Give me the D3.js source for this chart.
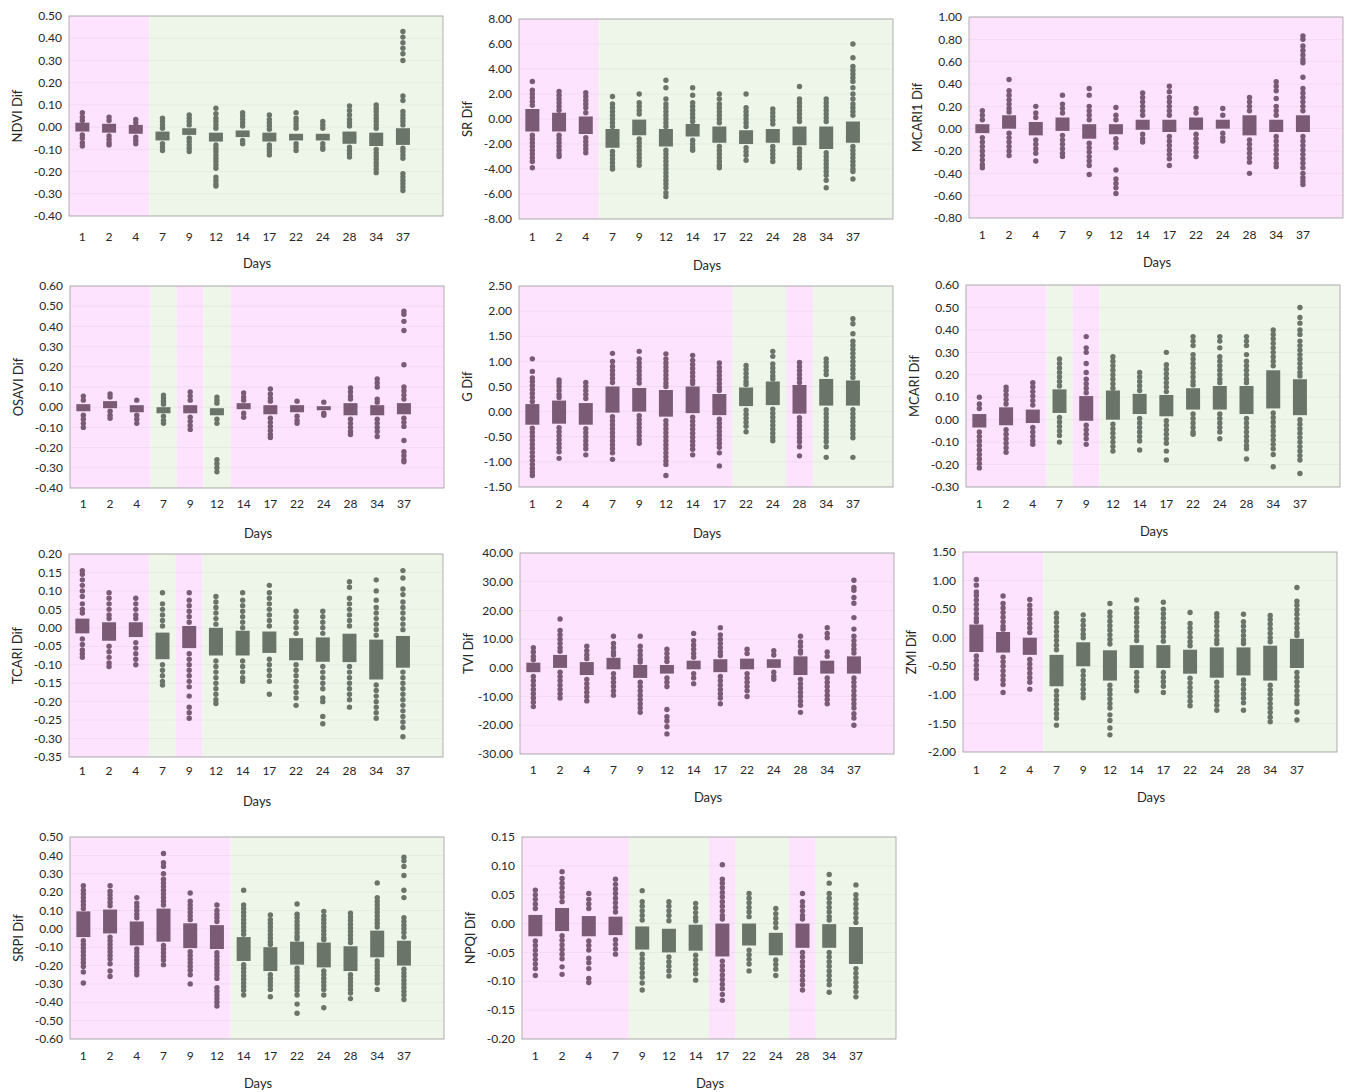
<!DOCTYPE html>
<html>
<head>
<meta charset="utf-8">
<script src="https://cdn.jsdelivr.net/npm/d3@7"></script>
<style>
  body { margin: 0; background: #fff; }
  text { font-family: Lato, "Open Sans", sans-serif; fill: #262626; }
</style>
</head>
<body>
<svg id="chart" width="1347" height="1092"></svg>
<script>
// x categories (sampling days)
const days = ["1", "2", "4", "7", "9", "12", "14", "17", "22", "24", "28", "34", "37"];

// p = purple (pink background), g = green-grey (green background)
const ndviGroup   = ["p","p","p","g","g","g","g","g","g","g","g","g","g"];
const srGroup     = ["p","p","p","g","g","g","g","g","g","g","g","g","g"];
const mcari1Group = ["p","p","p","p","p","p","p","p","p","p","p","p","p"];
const osaviGroup  = ["p","p","p","g","p","g","p","p","p","p","p","p","p"];
const gGroup      = ["p","p","p","p","p","p","p","p","g","g","p","g","g"];
const mcariGroup  = ["p","p","p","g","p","g","g","g","g","g","g","g","g"];
const tcariGroup  = ["p","p","p","g","p","g","g","g","g","g","g","g","g"];
const tviGroup    = ["p","p","p","p","p","p","p","p","p","p","p","p","p"];
const zmiGroup    = ["p","p","p","g","g","g","g","g","g","g","g","g","g"];
const srpiGroup   = ["p","p","p","p","p","p","g","g","g","g","g","g","g"];
const npqiGroup   = ["p","p","p","p","g","g","g","p","g","g","p","g","g"];

// y tick labels
const ndviTicks   = [-0.4, -0.3, -0.2, -0.1, 0, 0.1, 0.2, 0.3, 0.4, 0.5];
const srTicks     = [-8, -6, -4, -2, 0, 2, 4, 6, 8];
const mcari1Ticks = [-0.8, -0.6, -0.4, -0.2, 0, 0.2, 0.4, 0.6, 0.8, 1.0];
const osaviTicks  = [-0.4, -0.3, -0.2, -0.1, 0, 0.1, 0.2, 0.3, 0.4, 0.5, 0.6];
const gTicks      = [-1.5, -1.0, -0.5, 0, 0.5, 1.0, 1.5, 2.0, 2.5];
const mcariTicks  = [-0.3, -0.2, -0.1, 0, 0.1, 0.2, 0.3, 0.4, 0.5, 0.6];
const tcariTicks  = [-0.35, -0.3, -0.25, -0.2, -0.15, -0.1, -0.05, 0, 0.05, 0.1, 0.15, 0.2];
const tviTicks    = [-30, -20, -10, 0, 10, 20, 30, 40];
const zmiTicks    = [-2.0, -1.5, -1.0, -0.5, 0, 0.5, 1.0, 1.5];
const srpiTicks   = [-0.6, -0.5, -0.4, -0.3, -0.2, -0.1, 0, 0.1, 0.2, 0.3, 0.4, 0.5];
const npqiTicks   = [-0.2, -0.15, -0.1, -0.05, 0, 0.05, 0.1, 0.15];

// box bottoms / tops (quartiles) and the dots visible outside the box
const ndviQ1 = [-0.02,-0.025,-0.03,-0.06,-0.035,-0.065,-0.045,-0.065,-0.06,-0.06,-0.075,-0.085,-0.08];
const ndviQ3 = [0.02,0.015,0.01,-0.02,-0.005,-0.025,-0.015,-0.025,-0.03,-0.03,-0.02,-0.025,-0.005];
const ndviDots = [
  [0.065,0.045,0.03,-0.035,-0.05,-0.07,-0.085],
  [0.045,0.03,-0.04,-0.055,-0.07,-0.08],
  [0.035,0.02,-0.045,-0.06,-0.075],
  [0.04,0.025,0.01,-0.005,-0.075,-0.09,-0.105],
  [0.055,0.04,0.025,0.01,-0.05,-0.065,-0.08,-0.095,-0.11],
  [0.085,0.06,0.04,0.025,0.01,-0.005,-0.08,-0.095,-0.11,-0.125,-0.14,-0.155,-0.17,-0.185,-0.225,-0.24,-0.255,-0.265],
  [0.065,0.05,0.035,0.02,0.005,-0.06,-0.075],
  [0.055,0.035,0.02,0.005,-0.01,-0.08,-0.095,-0.11,-0.125],
  [0.065,0.04,0.025,0.01,-0.005,-0.075,-0.09,-0.105],
  [0.025,0.01,-0.005,-0.075,-0.09,-0.1],
  [0.095,0.075,0.055,0.035,0.02,0.005,-0.09,-0.105,-0.12,-0.135],
  [0.1,0.085,0.07,0.055,0.04,0.025,0.01,-0.005,-0.1,-0.115,-0.13,-0.145,-0.16,-0.175,-0.19,-0.205],
  [0.43,0.405,0.38,0.355,0.33,0.3,0.14,0.12,0.07,0.055,0.04,0.025,0.01,-0.095,-0.11,-0.125,-0.14,-0.21,-0.225,-0.24,-0.255,-0.27,-0.285]
];

const srQ1 = [-1.0,-1.0,-1.2,-2.3,-1.3,-2.2,-1.4,-1.9,-2.0,-1.9,-2.1,-2.4,-1.9];
const srQ3 = [0.8,0.5,0.2,-0.8,-0.05,-0.8,-0.4,-0.6,-0.9,-0.8,-0.6,-0.6,-0.2];
const srDots = [
  [3.0,2.3,2.0,1.7,1.4,1.1,-1.3,-1.6,-1.9,-2.2,-2.5,-2.8,-3.1,-3.4,-3.9],
  [2.2,1.9,1.6,1.3,1.0,0.7,-1.3,-1.6,-1.9,-2.2,-2.5,-2.8,-3.0],
  [2.1,1.8,1.5,1.2,0.9,0.5,-1.5,-1.8,-2.1,-2.4,-2.7],
  [1.8,1.2,0.9,0.6,0.3,0.0,-0.3,-0.6,-2.6,-2.9,-3.2,-3.5,-3.8,-4.0],
  [2.0,1.3,1.0,0.7,0.4,-1.6,-1.9,-2.2,-2.5,-2.8,-3.1,-3.4,-3.7],
  [3.1,2.5,1.6,1.2,0.9,0.6,0.3,0.0,-0.3,-0.6,-2.5,-2.8,-3.1,-3.4,-3.7,-4.0,-4.3,-4.6,-4.9,-5.2,-5.5,-5.9,-6.2],
  [2.5,1.9,1.3,1.0,0.7,0.4,0.1,-0.2,-1.7,-2.0,-2.3,-2.5],
  [2.0,1.6,1.2,0.9,0.6,0.3,0.0,-0.3,-2.2,-2.5,-2.8,-3.1,-3.4,-3.7,-3.9],
  [2.0,0.9,0.6,0.3,0.0,-0.3,-0.6,-2.3,-2.6,-2.9,-3.3],
  [0.8,0.5,0.2,-0.1,-0.4,-2.2,-2.5,-2.8,-3.1,-3.4],
  [2.6,1.6,1.3,1.0,0.7,0.4,0.1,-0.2,-2.4,-2.7,-3.0,-3.3,-3.6,-3.9],
  [1.6,1.3,1.0,0.7,0.4,0.1,-0.2,-2.7,-3.0,-3.3,-3.6,-3.9,-4.2,-4.5,-4.9,-5.5],
  [6.0,4.9,4.2,3.9,3.6,3.3,3.0,2.5,2.0,1.6,1.2,0.9,0.6,0.3,-2.2,-2.5,-2.8,-3.1,-3.4,-3.7,-4.0,-4.2,-4.8]
];

const mcari1Q1 = [-0.04,0.0,-0.06,-0.02,-0.09,-0.05,-0.01,-0.03,-0.01,0.0,-0.06,-0.03,-0.03];
const mcari1Q3 = [0.04,0.12,0.06,0.1,0.04,0.04,0.08,0.08,0.1,0.08,0.12,0.08,0.12];
const mcari1Dots = [
  [0.16,0.12,0.08,-0.08,-0.12,-0.16,-0.2,-0.24,-0.28,-0.32,-0.35],
  [0.44,0.34,0.3,0.26,0.22,0.18,0.15,-0.04,-0.08,-0.12,-0.16,-0.2,-0.24],
  [0.2,0.14,0.1,-0.1,-0.14,-0.18,-0.22,-0.29],
  [0.3,0.22,0.18,0.14,-0.06,-0.1,-0.14,-0.18,-0.22,-0.25],
  [0.36,0.3,0.2,0.16,0.12,0.08,-0.13,-0.17,-0.21,-0.25,-0.29,-0.33,-0.41],
  [0.19,0.12,0.08,-0.09,-0.13,-0.17,-0.37,-0.45,-0.49,-0.53,-0.58],
  [0.32,0.28,0.24,0.2,0.16,0.12,-0.05,-0.09,-0.12],
  [0.38,0.33,0.28,0.24,0.2,0.16,0.12,-0.07,-0.11,-0.15,-0.19,-0.23,-0.27,-0.33],
  [0.18,0.14,-0.05,-0.09,-0.13,-0.17,-0.21,-0.25],
  [0.18,0.12,-0.04,-0.08,-0.11],
  [0.28,0.24,0.2,0.16,-0.1,-0.14,-0.18,-0.22,-0.26,-0.3,-0.4],
  [0.42,0.38,0.34,0.27,0.2,0.16,0.12,-0.07,-0.11,-0.15,-0.19,-0.23,-0.27,-0.31,-0.34],
  [0.83,0.8,0.74,0.7,0.66,0.62,0.59,0.46,0.36,0.32,0.28,0.24,0.2,0.16,-0.07,-0.11,-0.15,-0.19,-0.23,-0.27,-0.31,-0.35,-0.4,-0.44,-0.47,-0.5]
];

const osaviQ1 = [-0.02,-0.005,-0.025,-0.03,-0.03,-0.04,-0.01,-0.035,-0.025,-0.015,-0.04,-0.04,-0.035];
const osaviQ3 = [0.015,0.03,0.01,0.0,0.01,-0.005,0.02,0.01,0.01,0.005,0.02,0.01,0.02];
const osaviDots = [
  [0.055,0.035,-0.04,-0.06,-0.08,-0.1],
  [0.065,0.05,-0.02,-0.04,-0.055],
  [0.035,-0.04,-0.06,-0.08],
  [0.06,0.045,0.03,0.015,-0.045,-0.065,-0.08],
  [0.075,0.055,0.035,-0.05,-0.07,-0.09,-0.11],
  [0.05,0.035,0.02,-0.06,-0.08,-0.26,-0.28,-0.3,-0.32],
  [0.07,0.05,0.035,-0.03,-0.05],
  [0.09,0.065,0.045,0.03,-0.055,-0.075,-0.095,-0.115,-0.135,-0.15],
  [0.03,-0.045,-0.065,-0.08],
  [0.025,-0.03,-0.04],
  [0.095,0.075,0.055,0.04,-0.06,-0.08,-0.1,-0.12,-0.135],
  [0.14,0.12,0.1,0.04,0.025,-0.06,-0.08,-0.1,-0.12,-0.145],
  [0.475,0.46,0.425,0.38,0.21,0.1,0.08,0.06,0.04,-0.055,-0.075,-0.095,-0.165,-0.22,-0.24,-0.26,-0.27]
];

const gQ1 = [-0.26,-0.24,-0.26,-0.02,0.0,-0.1,-0.03,-0.07,0.11,0.13,-0.04,0.12,0.12];
const gQ3 = [0.15,0.22,0.17,0.5,0.47,0.43,0.5,0.35,0.48,0.6,0.53,0.65,0.62];
const gDots = [
  [1.05,0.8,0.67,0.6,0.52,0.44,0.36,0.28,0.2,-0.33,-0.41,-0.49,-0.57,-0.65,-0.73,-0.81,-0.89,-0.97,-1.05,-1.13,-1.2,-1.27],
  [0.63,0.57,0.5,0.42,0.34,0.28,-0.32,-0.4,-0.48,-0.56,-0.64,-0.72,-0.8,-0.93],
  [0.58,0.5,0.42,0.34,0.26,-0.34,-0.42,-0.5,-0.58,-0.66,-0.74,-0.86],
  [1.16,1.0,0.9,0.82,0.74,0.66,0.58,-0.1,-0.18,-0.26,-0.34,-0.42,-0.5,-0.58,-0.66,-0.74,-0.82,-0.95],
  [1.2,1.05,0.97,0.89,0.81,0.73,0.65,0.57,-0.08,-0.16,-0.24,-0.32,-0.4,-0.48,-0.56,-0.63],
  [1.15,1.05,0.97,0.89,0.81,0.73,0.65,0.57,0.5,-0.18,-0.26,-0.34,-0.42,-0.5,-0.58,-0.66,-0.74,-0.82,-0.9,-0.98,-1.05,-1.27],
  [1.12,1.02,0.94,0.86,0.78,0.7,0.62,0.56,-0.11,-0.19,-0.27,-0.35,-0.43,-0.51,-0.59,-0.67,-0.75,-0.86],
  [0.97,0.88,0.8,0.72,0.64,0.56,0.48,0.42,-0.15,-0.23,-0.31,-0.39,-0.47,-0.55,-0.63,-0.71,-0.82,-1.08],
  [0.92,0.84,0.76,0.68,0.6,0.54,0.03,-0.05,-0.13,-0.21,-0.29,-0.4],
  [1.2,1.1,0.95,0.87,0.79,0.71,0.65,0.05,-0.03,-0.11,-0.19,-0.27,-0.35,-0.43,-0.51,-0.58],
  [0.98,0.9,0.82,0.74,0.66,0.58,-0.12,-0.2,-0.28,-0.36,-0.44,-0.52,-0.6,-0.7,-0.88],
  [1.05,0.98,0.9,0.82,0.74,0.04,-0.04,-0.12,-0.2,-0.28,-0.36,-0.44,-0.52,-0.6,-0.7,-0.91],
  [1.85,1.75,1.55,1.4,1.32,1.24,1.16,1.08,1.0,0.92,0.84,0.76,0.68,0.04,-0.04,-0.12,-0.2,-0.28,-0.36,-0.44,-0.52,-0.91]
];

const mcariQ1 = [-0.035,-0.025,-0.015,0.03,-0.005,0.0,0.025,0.015,0.045,0.045,0.025,0.05,0.02];
const mcariQ3 = [0.025,0.055,0.045,0.135,0.105,0.13,0.115,0.11,0.14,0.15,0.15,0.22,0.18];
const mcariDots = [
  [0.1,0.07,0.05,-0.055,-0.075,-0.095,-0.115,-0.135,-0.155,-0.175,-0.195,-0.215],
  [0.145,0.13,0.11,0.09,0.07,-0.045,-0.065,-0.085,-0.105,-0.125,-0.145],
  [0.165,0.145,0.125,0.105,0.085,0.065,-0.035,-0.055,-0.075,-0.095,-0.11],
  [0.27,0.25,0.23,0.21,0.19,0.17,0.15,0.01,-0.01,-0.03,-0.05,-0.07,-0.1],
  [0.37,0.32,0.3,0.25,0.21,0.18,0.16,0.14,0.12,-0.025,-0.045,-0.065,-0.085,-0.11],
  [0.28,0.26,0.24,0.22,0.2,0.18,0.16,0.14,-0.02,-0.04,-0.06,-0.08,-0.1,-0.12,-0.14],
  [0.21,0.19,0.17,0.15,0.13,0.005,-0.015,-0.035,-0.055,-0.075,-0.095,-0.135],
  [0.3,0.245,0.225,0.205,0.185,0.165,0.145,0.125,-0.005,-0.025,-0.045,-0.065,-0.085,-0.105,-0.14,-0.18],
  [0.37,0.35,0.33,0.29,0.27,0.25,0.23,0.21,0.19,0.17,0.155,0.025,0.005,-0.015,-0.035,-0.055,-0.065],
  [0.37,0.35,0.32,0.28,0.26,0.24,0.22,0.2,0.18,0.165,0.025,0.005,-0.015,-0.035,-0.055,-0.085],
  [0.37,0.35,0.33,0.29,0.26,0.24,0.22,0.2,0.18,0.165,0.005,-0.015,-0.035,-0.055,-0.075,-0.095,-0.115,-0.13,-0.175],
  [0.4,0.38,0.36,0.34,0.32,0.3,0.28,0.26,0.24,0.03,0.01,-0.01,-0.03,-0.05,-0.07,-0.09,-0.11,-0.13,-0.155,-0.21],
  [0.5,0.455,0.43,0.4,0.38,0.35,0.33,0.31,0.29,0.27,0.25,0.23,0.21,0.195,0.0,-0.02,-0.04,-0.06,-0.08,-0.1,-0.12,-0.14,-0.16,-0.18,-0.24]
];

const tcariQ1 = [-0.015,-0.035,-0.025,-0.085,-0.055,-0.075,-0.075,-0.068,-0.088,-0.092,-0.093,-0.14,-0.108];
const tcariQ3 = [0.025,0.015,0.015,-0.013,0.005,0.0,-0.008,-0.01,-0.028,-0.026,-0.016,-0.032,-0.022];
const tcariDots = [
  [0.155,0.145,0.13,0.115,0.1,0.085,0.065,0.05,0.04,-0.03,-0.045,-0.06,-0.07,-0.08],
  [0.095,0.08,0.065,0.05,0.035,0.025,-0.05,-0.065,-0.08,-0.095,-0.105],
  [0.08,0.065,0.05,0.035,0.025,-0.04,-0.055,-0.07,-0.085,-0.1],
  [0.095,0.065,0.05,0.035,0.02,0.005,-0.1,-0.115,-0.13,-0.145,-0.155],
  [0.095,0.075,0.06,0.045,0.03,0.015,-0.07,-0.085,-0.1,-0.115,-0.13,-0.145,-0.16,-0.185,-0.215,-0.23,-0.245],
  [0.085,0.07,0.055,0.04,0.025,0.01,-0.09,-0.105,-0.12,-0.135,-0.15,-0.165,-0.18,-0.195,-0.205],
  [0.095,0.075,0.06,0.045,0.03,0.015,0.0,-0.09,-0.105,-0.12,-0.135,-0.145],
  [0.115,0.095,0.08,0.065,0.05,0.035,0.02,0.005,-0.085,-0.1,-0.115,-0.13,-0.145,-0.18],
  [0.045,0.03,0.015,0.0,-0.015,-0.1,-0.115,-0.13,-0.145,-0.16,-0.175,-0.19,-0.21],
  [0.045,0.03,0.015,0.0,-0.015,-0.105,-0.12,-0.135,-0.15,-0.165,-0.19,-0.2,-0.24,-0.26],
  [0.125,0.11,0.08,0.065,0.05,0.035,0.02,0.005,-0.105,-0.12,-0.135,-0.15,-0.165,-0.18,-0.195,-0.215],
  [0.13,0.1,0.075,0.055,0.04,0.025,0.01,-0.005,-0.02,-0.155,-0.17,-0.185,-0.2,-0.215,-0.23,-0.245],
  [0.155,0.135,0.105,0.09,0.07,0.055,0.04,0.025,0.01,-0.005,-0.12,-0.135,-0.15,-0.165,-0.18,-0.195,-0.21,-0.225,-0.24,-0.255,-0.27,-0.295]
];

const tviQ1 = [-1.5,0.0,-2.5,-0.5,-3.5,-2.0,-0.5,-1.5,-0.5,0.0,-2.5,-2.0,-2.0];
const tviQ3 = [1.8,4.5,2.0,3.5,1.0,1.0,2.5,3.0,3.2,3.0,4.0,2.5,4.0];
const tviDots = [
  [7.0,5.5,4.0,2.8,-3.0,-4.5,-6.0,-7.5,-9.0,-10.5,-12.0,-13.5],
  [17.0,13.0,11.5,10.0,8.5,7.0,5.8,-1.5,-3.0,-4.5,-6.0,-7.5,-9.0,-10.5],
  [7.5,6.0,4.5,3.2,-4.0,-5.5,-7.0,-8.5,-10.0,-11.5],
  [11.0,8.5,7.0,5.5,4.5,-2.0,-3.5,-5.0,-6.5,-8.0,-9.5],
  [11.0,7.5,6.0,4.5,3.0,2.0,-5.0,-6.5,-8.0,-9.5,-11.0,-12.5,-14.0,-15.5],
  [6.5,5.0,3.5,2.2,-3.5,-5.0,-6.5,-14.5,-17.0,-18.5,-20.5,-23.0],
  [12.0,9.5,8.0,6.5,5.0,3.7,-2.0,-3.5,-5.5],
  [14.0,11.5,10.0,8.5,7.0,5.5,4.3,-3.0,-4.5,-6.0,-7.5,-9.0,-10.5,-12.5],
  [6.5,5.0,-2.0,-3.5,-5.0,-6.5,-8.0,-10.0],
  [6.0,4.5,-1.5,-3.0,-4.0],
  [11.0,9.0,7.5,6.0,5.2,-4.0,-5.5,-7.0,-8.5,-10.0,-11.5,-13.0,-15.5],
  [14.0,12.0,10.5,5.5,4.0,-3.5,-5.0,-6.5,-8.0,-9.5,-11.0,-12.5],
  [30.5,28.0,27.0,24.5,22.5,17.5,13.5,11.0,9.5,8.0,6.5,5.2,-3.5,-5.0,-6.5,-8.0,-9.5,-11.0,-12.5,-14.0,-16.0,-17.5,-20.0]
];

const zmiQ1 = [-0.25,-0.26,-0.3,-0.85,-0.5,-0.75,-0.53,-0.53,-0.63,-0.7,-0.66,-0.75,-0.53];
const zmiQ3 = [0.23,0.1,0.0,-0.3,-0.08,-0.22,-0.13,-0.13,-0.21,-0.17,-0.17,-0.14,-0.02];
const zmiDots = [
  [1.02,0.92,0.8,0.74,0.66,0.58,0.5,0.42,0.34,0.28,-0.32,-0.4,-0.48,-0.56,-0.64,-0.71],
  [0.73,0.6,0.52,0.44,0.36,0.28,0.2,0.15,-0.34,-0.42,-0.5,-0.58,-0.66,-0.74,-0.82,-0.96],
  [0.67,0.57,0.49,0.41,0.33,0.25,0.17,0.09,-0.38,-0.46,-0.54,-0.62,-0.7,-0.78,-0.9],
  [0.43,0.35,0.27,0.19,0.11,0.03,-0.05,-0.13,-0.21,-0.93,-1.01,-1.09,-1.17,-1.25,-1.33,-1.41,-1.53],
  [0.4,0.3,0.22,0.14,0.06,0.0,-0.58,-0.66,-0.74,-0.82,-0.9,-0.98,-1.05],
  [0.6,0.45,0.37,0.29,0.21,0.13,0.05,-0.03,-0.11,-0.83,-0.91,-0.99,-1.07,-1.15,-1.23,-1.35,-1.45,-1.58,-1.7],
  [0.66,0.51,0.43,0.35,0.27,0.19,0.11,0.03,-0.05,-0.61,-0.69,-0.77,-0.85,-0.93],
  [0.62,0.5,0.42,0.34,0.26,0.18,0.1,0.02,-0.06,-0.61,-0.69,-0.77,-0.85,-0.96],
  [0.44,0.25,0.17,0.09,0.01,-0.07,-0.14,-0.71,-0.79,-0.87,-0.95,-1.03,-1.11,-1.19],
  [0.42,0.36,0.28,0.2,0.12,0.04,-0.04,-0.1,-0.78,-0.86,-0.94,-1.02,-1.1,-1.18,-1.27],
  [0.41,0.28,0.2,0.12,0.04,-0.04,-0.1,-0.74,-0.82,-0.9,-0.98,-1.06,-1.14,-1.27],
  [0.39,0.32,0.24,0.16,0.08,0.0,-0.07,-0.83,-0.91,-0.99,-1.07,-1.15,-1.23,-1.31,-1.39,-1.47],
  [0.88,0.64,0.57,0.49,0.41,0.33,0.25,0.17,0.09,0.04,-0.61,-0.69,-0.77,-0.85,-0.93,-1.01,-1.09,-1.15,-1.3,-1.44]
];

const srpiQ1 = [-0.045,-0.025,-0.09,-0.07,-0.105,-0.11,-0.175,-0.23,-0.195,-0.21,-0.23,-0.155,-0.2];
const srpiQ3 = [0.095,0.105,0.04,0.11,0.03,0.02,-0.045,-0.1,-0.07,-0.075,-0.095,-0.01,-0.065];
const srpiDots = [
  [0.235,0.21,0.19,0.17,0.15,0.13,0.11,-0.065,-0.085,-0.105,-0.125,-0.145,-0.165,-0.185,-0.205,-0.235,-0.295],
  [0.235,0.205,0.185,0.165,0.145,0.125,-0.045,-0.065,-0.085,-0.105,-0.125,-0.145,-0.165,-0.19,-0.23,-0.26],
  [0.17,0.14,0.12,0.1,0.08,0.06,-0.11,-0.13,-0.15,-0.17,-0.19,-0.21,-0.23,-0.25],
  [0.41,0.36,0.34,0.3,0.27,0.25,0.23,0.21,0.19,0.17,0.15,0.13,-0.09,-0.11,-0.13,-0.15,-0.17,-0.195],
  [0.195,0.15,0.13,0.11,0.09,0.07,0.05,-0.125,-0.145,-0.165,-0.185,-0.205,-0.225,-0.25,-0.3],
  [0.13,0.1,0.08,0.06,0.04,-0.13,-0.15,-0.17,-0.19,-0.21,-0.23,-0.25,-0.27,-0.32,-0.34,-0.36,-0.38,-0.4,-0.42],
  [0.21,0.13,0.11,0.09,0.07,0.05,0.03,0.01,-0.01,-0.03,-0.195,-0.215,-0.235,-0.255,-0.275,-0.295,-0.315,-0.335,-0.36],
  [0.075,0.05,0.03,0.01,-0.01,-0.03,-0.05,-0.07,-0.085,-0.25,-0.27,-0.29,-0.31,-0.33,-0.37],
  [0.135,0.08,0.06,0.04,0.02,0.0,-0.02,-0.04,-0.055,-0.215,-0.235,-0.255,-0.275,-0.295,-0.315,-0.335,-0.36,-0.41,-0.46],
  [0.095,0.07,0.05,0.03,0.01,-0.01,-0.03,-0.05,-0.06,-0.23,-0.25,-0.27,-0.29,-0.31,-0.33,-0.36,-0.43],
  [0.085,0.065,0.045,0.025,0.005,-0.015,-0.035,-0.055,-0.075,-0.25,-0.27,-0.29,-0.31,-0.33,-0.35,-0.38],
  [0.25,0.17,0.15,0.13,0.11,0.09,0.07,0.05,0.03,0.01,-0.175,-0.195,-0.215,-0.235,-0.255,-0.275,-0.295,-0.33],
  [0.39,0.37,0.34,0.29,0.21,0.17,0.06,0.04,0.02,0.0,-0.02,-0.045,-0.22,-0.24,-0.26,-0.28,-0.3,-0.32,-0.34,-0.36,-0.385]
];

const npqiQ1 = [-0.022,-0.013,-0.022,-0.02,-0.045,-0.05,-0.047,-0.057,-0.038,-0.055,-0.042,-0.042,-0.07];
const npqiQ3 = [0.015,0.027,0.013,0.012,-0.005,-0.009,-0.002,0.0,0.0,-0.016,0.0,-0.001,-0.006];
const npqiDots = [
  [0.058,0.05,0.042,0.034,0.026,-0.03,-0.038,-0.046,-0.054,-0.062,-0.07,-0.078,-0.09],
  [0.09,0.078,0.07,0.062,0.054,0.046,0.038,-0.021,-0.029,-0.037,-0.045,-0.053,-0.061,-0.075,-0.088],
  [0.052,0.042,0.034,0.026,-0.03,-0.038,-0.046,-0.06,-0.068,-0.078,-0.095,-0.102],
  [0.077,0.068,0.06,0.052,0.044,0.036,0.028,0.02,-0.028,-0.036,-0.044,-0.053],
  [0.057,0.038,0.03,0.022,0.014,0.006,-0.053,-0.061,-0.069,-0.077,-0.085,-0.093,-0.103,-0.115],
  [0.038,0.03,0.022,0.014,0.005,-0.058,-0.066,-0.074,-0.082,-0.091],
  [0.035,0.027,0.019,0.011,0.005,-0.055,-0.063,-0.071,-0.079,-0.087,-0.098],
  [0.102,0.077,0.07,0.062,0.054,0.046,0.038,0.03,0.022,0.014,0.008,-0.065,-0.073,-0.081,-0.089,-0.097,-0.105,-0.113,-0.123,-0.133],
  [0.052,0.044,0.036,0.028,0.02,0.012,-0.046,-0.054,-0.062,-0.07,-0.082],
  [0.026,0.017,0.009,0.001,-0.007,-0.063,-0.071,-0.079,-0.09],
  [0.052,0.038,0.03,0.022,0.014,0.008,-0.05,-0.058,-0.066,-0.074,-0.082,-0.09,-0.098,-0.106,-0.115],
  [0.085,0.07,0.052,0.044,0.036,0.028,0.02,0.012,0.006,-0.05,-0.058,-0.066,-0.074,-0.082,-0.09,-0.098,-0.106,-0.119],
  [0.067,0.05,0.042,0.034,0.026,0.018,0.01,0.002,-0.078,-0.086,-0.094,-0.102,-0.11,-0.118,-0.127]
];

// layout of the 11 panels
const panels = [
  { label: "NDVI Dif",   q1: ndviQ1,   q3: ndviQ3,   dots: ndviDots,   grp: ndviGroup,   ticks: ndviTicks,   left: 69,  top: 16,  bottom: 216,  tickDy: 21, daysDy: 47 },
  { label: "SR Dif",     q1: srQ1,     q3: srQ3,     dots: srDots,     grp: srGroup,     ticks: srTicks,     left: 519, top: 19,  bottom: 219,  tickDy: 18, daysDy: 46 },
  { label: "MCARI1 Dif", q1: mcari1Q1, q3: mcari1Q3, dots: mcari1Dots, grp: mcari1Group, ticks: mcari1Ticks, left: 969, top: 17,  bottom: 218,  tickDy: 17, daysDy: 44 },
  { label: "OSAVI Dif",  q1: osaviQ1,  q3: osaviQ3,  dots: osaviDots,  grp: osaviGroup,  ticks: osaviTicks,  left: 70,  top: 286, bottom: 488,  tickDy: 16, daysDy: 45 },
  { label: "G Dif",      q1: gQ1,      q3: gQ3,      dots: gDots,      grp: gGroup,      ticks: gTicks,      left: 519, top: 286, bottom: 487,  tickDy: 17, daysDy: 46 },
  { label: "MCARI Dif",  q1: mcariQ1,  q3: mcariQ3,  dots: mcariDots,  grp: mcariGroup,  ticks: mcariTicks,  left: 966, top: 285, bottom: 487,  tickDy: 17, daysDy: 44 },
  { label: "TCARI Dif",  q1: tcariQ1,  q3: tcariQ3,  dots: tcariDots,  grp: tcariGroup,  ticks: tcariTicks,  left: 69,  top: 554, bottom: 757,  tickDy: 14, daysDy: 44 },
  { label: "TVI Dif",    q1: tviQ1,    q3: tviQ3,    dots: tviDots,    grp: tviGroup,    ticks: tviTicks,    left: 520, top: 553, bottom: 754,  tickDy: 16, daysDy: 43 },
  { label: "ZMI Dif",    q1: zmiQ1,    q3: zmiQ3,    dots: zmiDots,    grp: zmiGroup,    ticks: zmiTicks,    left: 963, top: 552, bottom: 752,  tickDy: 18, daysDy: 45 },
  { label: "SRPI Dif",   q1: srpiQ1,   q3: srpiQ3,   dots: srpiDots,   grp: srpiGroup,   ticks: srpiTicks,   left: 70,  top: 837, bottom: 1039, tickDy: 17, daysDy: 44 },
  { label: "NPQI Dif",   q1: npqiQ1,   q3: npqiQ3,   dots: npqiDots,   grp: npqiGroup,   ticks: npqiTicks,   left: 522, top: 837, bottom: 1039, tickDy: 17, daysDy: 44 }
];

const plotW = 374;
const fillCol = { p: "#7a5a75", g: "#6b7469" };
const bgCol = { p: "#fde3fd", g: "#eef6ea" };

const svg = d3.select("#chart");

panels.forEach(p => {
  const g = svg.append("g");
  const slots = days.concat(["end"]);
  const x = d3.scaleBand().domain(slots).range([p.left, p.left + plotW]).paddingInner(0).paddingOuter(0);
  const y = d3.scaleLinear().domain([d3.min(p.ticks), d3.max(p.ticks)]).range([p.bottom, p.top]);
  const bw = x.bandwidth();

  // background runs of pink / green
  let runs = [];
  slots.forEach((s, i) => {
    const c = p.grp[Math.min(i, days.length - 1)];
    if (runs.length && runs[runs.length - 1].c === c) runs[runs.length - 1].end = s;
    else runs.push({ c: c, start: s, end: s });
  });
  g.selectAll("rect.bg").data(runs).enter().append("rect")
    .attr("class", "bg")
    .attr("x", d => x(d.start))
    .attr("width", d => x(d.end) + bw - x(d.start))
    .attr("y", p.top)
    .attr("height", p.bottom - p.top)
    .attr("fill", d => bgCol[d.c]);

  // faint grid
  g.selectAll("line.grid").data(p.ticks).enter().append("line")
    .attr("x1", p.left).attr("x2", p.left + plotW)
    .attr("y1", d => y(d)).attr("y2", d => y(d))
    .attr("stroke", "rgba(0,0,0,0.045)").attr("stroke-width", 1);

  // dots
  days.forEach((day, i) => {
    g.selectAll(null).data(p.dots[i]).enter().append("circle")
      .attr("cx", x(day) + bw / 2)
      .attr("cy", d => y(d))
      .attr("r", 2.7)
      .attr("fill", fillCol[p.grp[i]]);
  });

  // boxes
  g.selectAll("rect.box").data(days).enter().append("rect")
    .attr("class", "box")
    .attr("x", d => x(d) + bw / 2 - 7)
    .attr("width", 14)
    .attr("y", (d, i) => y(p.q3[i]))
    .attr("height", (d, i) => y(p.q1[i]) - y(p.q3[i]))
    .attr("fill", (d, i) => fillCol[p.grp[i]]);

  // frame
  g.append("rect")
    .attr("x", p.left).attr("y", p.top)
    .attr("width", plotW).attr("height", p.bottom - p.top)
    .attr("fill", "none").attr("stroke", "#9d9d9d").attr("stroke-width", 0.8);

  // y tick labels
  g.selectAll("text.yt").data(p.ticks).enter().append("text")
    .attr("x", p.left - 7)
    .attr("y", d => y(d))
    .attr("dy", "0.35em")
    .attr("text-anchor", "end")
    .attr("font-size", 12)
    .text(d => d.toFixed(2));

  // x tick labels
  g.selectAll("text.xt").data(days).enter().append("text")
    .attr("x", d => x(d) + bw / 2)
    .attr("y", p.bottom + p.tickDy)
    .attr("dy", "0.35em")
    .attr("text-anchor", "middle")
    .attr("font-size", 12)
    .text(d => d);

  // axis titles
  g.append("text")
    .attr("x", p.left + 188)
    .attr("y", p.bottom + p.daysDy)
    .attr("dy", "0.35em")
    .attr("text-anchor", "middle")
    .attr("font-size", 13)
    .text("Days");

  g.append("text")
    .attr("transform", `translate(${p.left - 52},${(p.top + p.bottom) / 2}) rotate(-90)`)
    .attr("text-anchor", "middle")
    .attr("dy", "0.35em")
    .attr("font-size", 13)
    .text(p.label);
});
</script>
</body>
</html>
